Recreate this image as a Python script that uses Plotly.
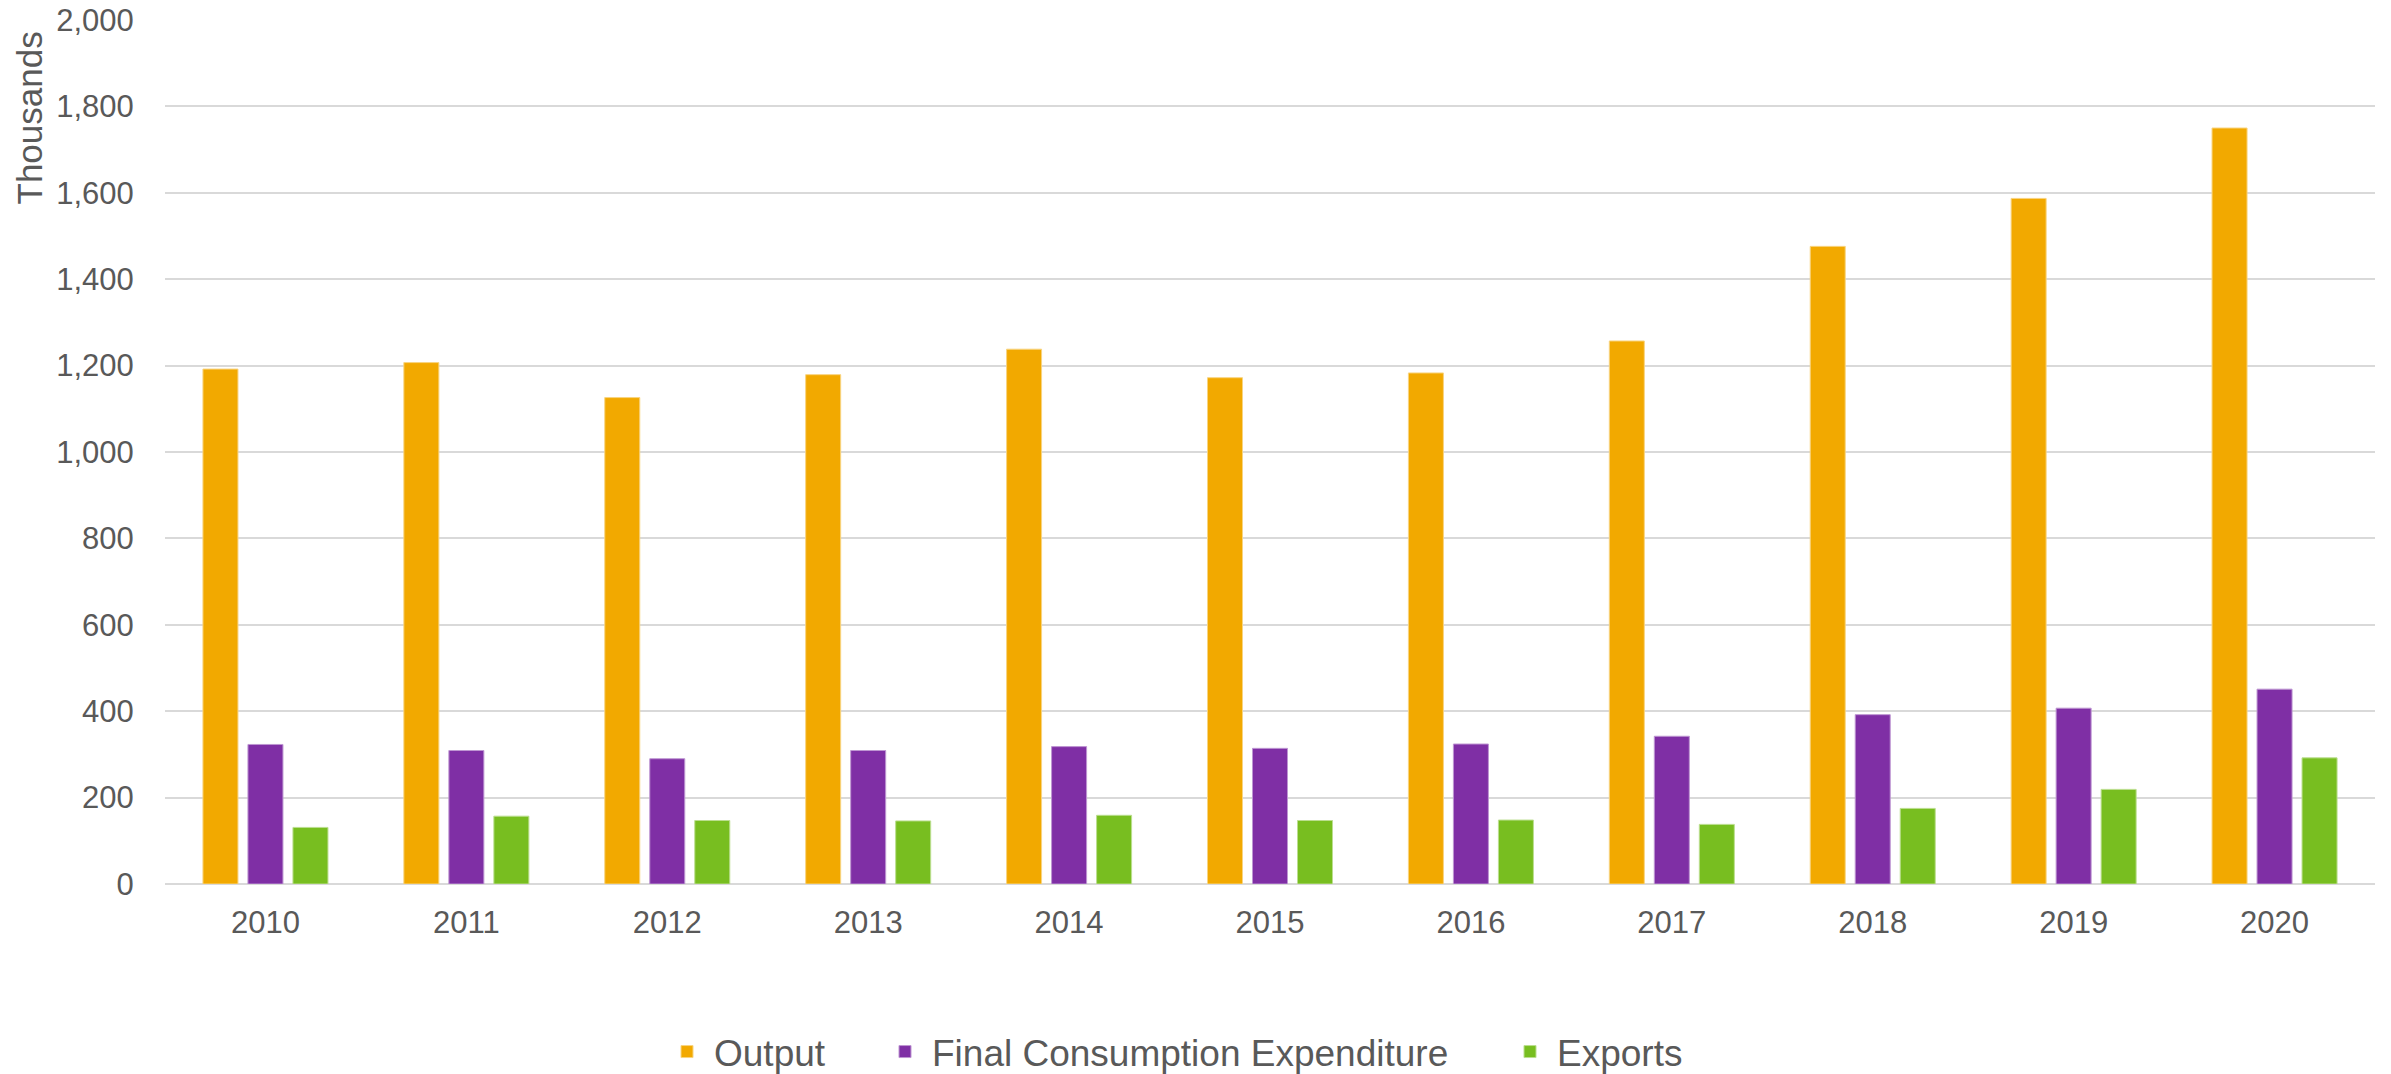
import plotly.graph_objects as go

years = ["2010", "2011", "2012", "2013", "2014", "2015", "2016", "2017", "2018", "2019", "2020"]
output = [1192, 1207, 1126, 1179, 1238, 1172, 1183, 1257, 1476, 1587, 1750]
final_consumption = [323, 309, 290, 309, 318, 314, 324, 342, 392, 407, 451]
exports = [131, 157, 147, 146, 159, 147, 148, 138, 175, 219, 292]

y_ticks = [0, 200, 400, 600, 800, 1000, 1200, 1400, 1600, 1800, 2000]
y_tick_labels = ["0", "200", "400", "600", "800", "1,000", "1,200", "1,400", "1,600", "1,800", "2,000"]

names = ["Output", "Final Consumption Expenditure", "Exports"]
colors = ["#F2A900", "#7F2FA5", "#78BE20"]
edge_colors = ["#F8D480", "#BE96D2", "#BBDE8F"]
legend_ids = ["legend", "legend2", "legend3"]
series = [output, final_consumption, exports]

FONT = "Liberation Sans, Arial, sans-serif"
TXT = "#595959"
W, H = 2391, 1074

fig = go.Figure()
for name, vals, col, ecol, lg in zip(names, series, colors, edge_colors, legend_ids):
    fig.add_trace(go.Bar(
        x=years, y=vals, name=name, legend=lg,
        marker=dict(color=col, line=dict(color=ecol, width=1)),
    ))

# legend text starts (px) measured from reference
text_starts = [714, 932, 1557]
legend_common = dict(
    orientation="h", xref="container", yref="container",
    xanchor="left", yanchor="middle", y=1 - 1052 / H,
    font=dict(family=FONT, size=37, color=TXT),
    bgcolor="rgba(0,0,0,0)", itemwidth=44,
)
legends = {}
for lg, ts in zip(legend_ids, text_starts):
    d = dict(legend_common)
    d["x"] = (ts - 54) / W
    legends[lg] = d

fig.update_layout(
    width=W, height=H,
    margin=dict(l=165, r=16, t=20, b=190, autoexpand=False),
    paper_bgcolor="white", plot_bgcolor="white",
    barmode="group", bargap=0.328, bargroupgap=0.222,
    font=dict(family=FONT, color=TXT),
    showlegend=True,
    **legends,
)
fig.update_xaxes(
    type="category", automargin=False,
    tickfont=dict(family=FONT, size=31, color=TXT),
    ticks="outside", ticklen=11, tickcolor="rgba(0,0,0,0)",
    showgrid=False, showline=False, zeroline=False,
)
fig.update_yaxes(
    range=[0, 2000], tickvals=y_ticks, ticktext=y_tick_labels, automargin=False,
    tickfont=dict(family=FONT, size=31, color=TXT),
    ticks="outside", ticklen=24, tickcolor="rgba(0,0,0,0)",
    showgrid=True, gridcolor="#D9D9D9", gridwidth=1.5,
    zeroline=True, zerolinecolor="#D9D9D9", zerolinewidth=1.5,
    showline=False,
)
fig.add_annotation(
    text="Thousands", textangle=-90,
    xref="paper", yref="paper",
    x=(29 - 165) / 2210, y=(884 - 30) / 864,
    xanchor="center", yanchor="top", showarrow=False,
    font=dict(family=FONT, size=35, color=TXT),
)

fig.write_html("out.html")
